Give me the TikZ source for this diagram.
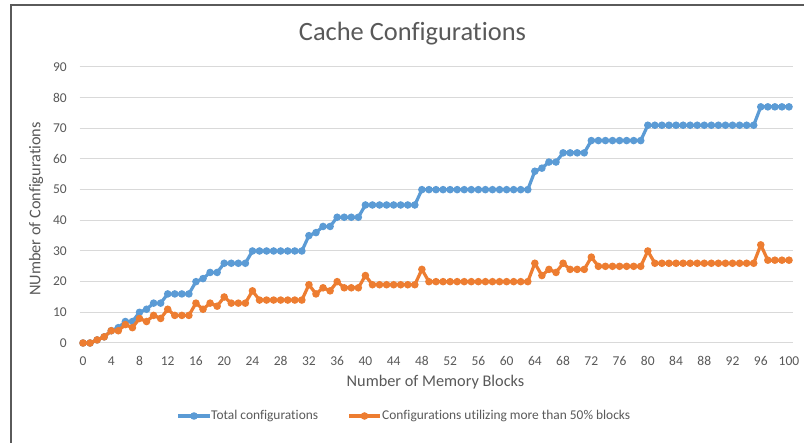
\documentclass[tikz,border=0pt]{standalone}
\usepackage{fontspec}
\setmainfont[Ligatures=NoCommon]{Carlito}
\definecolor{txtgray}{HTML}{595959}
\definecolor{gridgray}{HTML}{D9D9D9}
\definecolor{frame}{HTML}{5A5A5A}
\definecolor{serA}{HTML}{5B9BD5}
\definecolor{serB}{HTML}{ED7D31}
\begin{document}
\begin{tikzpicture}[x=1pt,y=-1pt,
  gridline/.style={gridgray,line width=1pt},
  ticklabel/.style={text=txtgray,font=\fontsize{13.5}{16}\selectfont,inner sep=0pt},
  axistitle/.style={text=txtgray,font=\fontsize{16.3}{19}\selectfont,inner sep=0pt},
  legendtext/.style={text=txtgray,font=\fontsize{13.4}{16}\selectfont,inner sep=0pt,anchor=west},
  serline/.style={line width=3.2pt,line join=round,line cap=round},
  dotr/.store in=\dotr, dotr=3.8pt]
\useasboundingbox (0,0) rectangle (804,443);
\fill[white] (0,0) rectangle (804,443);
% chart frame (left and top edges)
\draw[frame,line width=1.3pt] (11,443) -- (11,5) -- (804,5);

% horizontal gridlines and value labels
\foreach \v in {0,10,...,90}{
  \draw[gridline] (79.5,{343-\v*3.067}) -- (792.5,{343-\v*3.067});
  \node[ticklabel,anchor=east] (ylab\v) at (67,{343-\v*3.067}) {\v};
}
% category labels
\foreach \k in {0,4,...,100}{
  \node[ticklabel] (xlab\k) at ({83+\k*7.06},361) {\k};
}

% titles
\node[text=txtgray,font=\fontsize{26.4}{30}\selectfont,inner sep=0pt] (title) at (412.5,34) {Cache Configurations};
\node[axistitle] (xtitle) at (435.5,382.5) {Number of Memory Blocks};
\node[axistitle,rotate=90] (ytitle) at (36,209) {NUmber of Configurations};

% series: total configurations
\def\totaldata{0,1,2,4,5,7,7,10,11,13,13,16,16,16,16,20,21,23,23,26,26,26,26,30,30,30,30,30,30,30,30,35,36,38,38,41,41,41,41,45,45,45,45,45,45,45,45,50,50,50,50,50,50,50,50,50,50,50,50,50,50,50,50,56,57,59,59,62,62,62,62,66,66,66,66,66,66,66,66,71,71,71,71,71,71,71,71,71,71,71,71,71,71,71,71,77,77,77,77,77}
% series: configurations using more than half of the blocks
\def\halfdata{0,1,2,4,4,6,5,8,7,9,8,11,9,9,9,13,11,13,12,15,13,13,13,17,14,14,14,14,14,14,14,19,16,18,17,20,18,18,18,22,19,19,19,19,19,19,19,24,20,20,20,20,20,20,20,20,20,20,20,20,20,20,20,26,22,24,23,26,24,24,24,28,25,25,25,25,25,25,25,30,26,26,26,26,26,26,26,26,26,26,26,26,26,26,26,32,27,27,27,27}

\draw[serline,serA] (83,343) \foreach \v [count=\i from 1] in \totaldata { -- ({83+\i*7.06},{343-\v*3.067}) };
\fill[serA] (83,343) circle (\dotr);
\foreach \v [count=\i from 1] in \totaldata { \fill[serA] ({83+\i*7.06},{343-\v*3.067}) circle (\dotr); }

\draw[serline,serB] (83,343) \foreach \v [count=\i from 1] in \halfdata { -- ({83+\i*7.06},{343-\v*3.067}) };
\fill[serB] (83,343) circle (\dotr);
\foreach \v [count=\i from 1] in \halfdata { \fill[serB] ({83+\i*7.06},{343-\v*3.067}) circle (\dotr); }

% legend
\coordinate (legAa) at (178,416);
\coordinate (legAb) at (210,416);
\draw[serline,serA,line cap=butt] (legAa) -- (legAb);
\fill[serA] (194,416) circle (\dotr);
\node[legendtext] (legA) at (211,416.5) {Total configurations};
\coordinate (legBa) at (349,416);
\coordinate (legBb) at (380,416);
\draw[serline,serB,line cap=butt] (legBa) -- (legBb);
\fill[serB] (364.5,416) circle (\dotr);
\node[legendtext] (legB) at (382,416.5) {Configurations utilizing more than 50\% blocks};
\end{tikzpicture}
\end{document}
